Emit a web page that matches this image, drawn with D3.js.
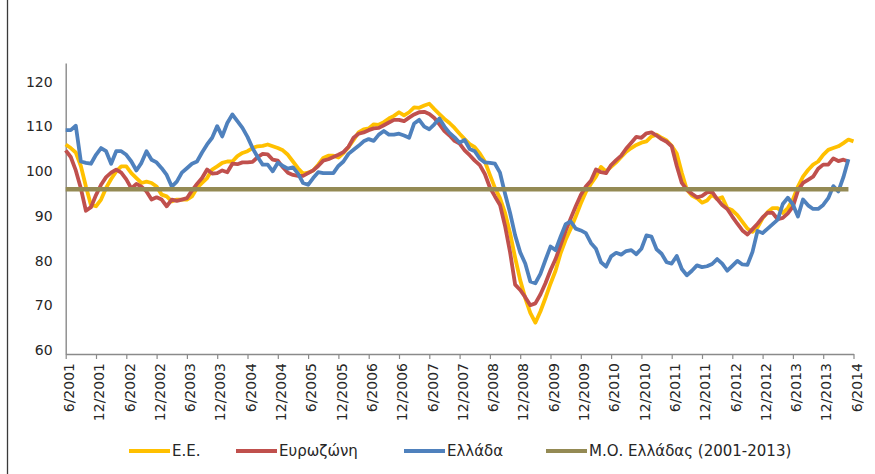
<!DOCTYPE html>
<html>
<head>
<meta charset="utf-8">
<script src="https://cdn.jsdelivr.net/npm/d3@7"></script>
<style>
  body { margin: 0; background: #fff; }
  svg { display: block; font-family: "DejaVu Sans", sans-serif; }
</style>
</head>
<body>
<div id="chart"></div>
<script>
// monthly values, 6/2001 .. 6/2014
const euValues = [
  106.8,106,105,102,97.4,93.3,93,94.5,97.1,99.1,100.8,101.9,101.9,100.4,99.3,98.2,98.5,98.2,97.4,95.6,
  95.2,94.1,94.5,94.5,94.5,95.2,97.1,98.2,99.3,101.2,101.9,102.7,103,103,104.2,104.9,105.3,106,106.4,106.5,
  106.8,106.4,106,105.5,104.5,103,101.5,100.3,100.5,101,102.3,103.8,104.3,104.3,103.9,104.9,106.2,107.8,109.5,110.2,
  110.4,111.3,111.2,111.8,112.6,113.2,114,113.3,114,115.1,115,115.5,115.9,114.7,113.6,112.5,111.6,110.5,109.2,108,
  106.9,106.2,104.8,103,100,97.1,94.8,91.5,87,81.5,76.5,72.5,69.2,67,69.5,72.5,75.7,78.6,82.5,85.5,
  88,90.7,93.6,96.2,98,99.6,101.8,100.8,101.8,102.8,104,105.2,106,106.7,107.2,107.5,108.6,109,108.3,107.7,
  106.5,104.8,100.5,96.7,95.4,94.8,93.8,94.3,95.6,94.6,95,92.6,92.1,91,89.5,88,87.3,88.3,90.3,91.7,
  92.6,92.6,91.5,92.6,94.5,97.4,99.6,101.1,102.3,103,104.5,105.6,106,106.4,107.1,107.9,107.5
];
const ezValues = [
  105.5,104,101,97,92,92.8,95.5,97.8,99.5,100.5,101.2,100.5,99,97,98,97.4,96.3,94.5,95,94.5,
  93,94.5,94.2,94.5,94.8,96.5,98,99.3,101.2,100.3,100.4,101,100.6,102.5,102.4,102.8,102.8,102.9,104,104.7,
  104.6,103.4,103.2,101.7,100.5,100,99.8,99.8,100.4,101,102,103.2,103.5,104,104.5,105.1,106.3,108.3,109.2,109.5,
  110,110.4,110.5,111.1,111.7,112.3,112.3,112,112.8,113.5,114,114.1,113.6,112.7,111.3,109.8,108.8,107.6,107,105.5,
  104.4,103.2,102.2,100.2,97.2,95.2,93.3,88.6,82.7,75.5,74.3,72.7,70.9,71.3,73.3,75.8,78.7,81.2,84.3,87.5,
  90.3,93,95.5,97.4,98.7,101.2,100.6,100.4,102.2,103.3,104.3,105.9,107.2,108.5,108.3,109.3,109.5,108.8,108,107.4,
  106.4,102,98.2,96.7,95.8,95,95.3,96.1,96.2,94.6,93.3,92.4,90.7,89.1,87.6,86.7,87.9,89.1,90.5,91.6,
  91.5,90.1,90.4,91.4,92.9,96.5,98.2,98.9,99.6,101.4,102.3,102.3,103.7,103.1,103.4,103
];
const grValues = [
  110,110,111,103,102.7,102.5,104.5,106,105.3,102.5,105.3,105.3,104.5,103,101,102.7,105.3,103.4,102.8,101.5,
  100,97.4,98.5,100.5,101.5,102.5,103,105,106.8,108.3,110.9,108.6,111.6,113.5,112,110.5,108.5,106,104,102.3,
  102.3,100.8,102.7,102,101.4,101.7,100.3,98.2,97.8,99.3,100.6,100.4,100.4,100.4,102,103,104.7,105.6,106.5,107.5,
  108,107.6,109,109.8,109,109,109.2,108.8,108.3,111.5,112.3,110.8,110.2,111.3,112.6,110.8,109.4,108.4,107.2,107.8,
  105.8,105.3,103.6,102.8,102.7,102.5,100.5,95.8,91.5,86.5,82.7,80.2,76.2,75.8,77.9,81,84,83.2,86.2,89,
  89.6,88,87.6,87,84.8,83.5,80.5,79.5,81.8,82.6,82.2,83,83.2,82.3,83.5,86.5,86.2,83.4,82.4,80.5,
  80.2,81.9,79,77.6,78.6,79.8,79.4,79.6,80.1,81.2,80.2,78.6,79.7,80.8,80,79.9,82.8,87.5,87,88,
  89,90,93.5,94.9,93.4,90.7,94.5,93.2,92.4,92.4,93.3,94.8,97.5,96.3,99.5,103.5
];
const grAverage = 96.8;

const seriesNames = ["Ε.Ε.", "Ευρωζώνη", "Ελλάδα", "Μ.Ο. Ελλάδας (2001-2013)"];
const seriesColors = ["#FFC000", "#C0504D", "#4F81BD", "#948A54"];

const xTickLabels = ["6/2001","12/2001","6/2002","12/2002","6/2003","12/2003","6/2004","12/2004",
  "6/2005","12/2005","6/2006","12/2006","6/2007","12/2007","6/2008","12/2008","6/2009","12/2009",
  "6/2010","12/2010","6/2011","12/2011","6/2012","12/2012","6/2013","12/2013","6/2014"];
const yTicks = [60, 70, 80, 90, 100, 110, 120];

const width = 875, height = 474;
let margin = {top: 63, left: 65.7, right: 21.5, bottom: 120};

let svg = d3.select("#chart").append("svg")
  .attr("width", width)
  .attr("height", height);

// outer frame edge on the left
svg.append("line")
  .attr("x1", 7.5).attr("x2", 7.5)
  .attr("y1", 0).attr("y2", height)
  .attr("stroke", "#3a3a3a")
  .attr("stroke-width", 1.3);

let x = d3.scaleLinear()
  .domain([0, 156])
  .range([margin.left, width - margin.right]);

let y = d3.scaleLinear()
  .domain([60, 125])
  .range([height - margin.bottom, margin.top]);

// x axis, tick every 6 months
let xAxis = d3.axisBottom(x)
  .tickValues(d3.range(0, 157, 6))
  .tickFormat((d, i) => xTickLabels[i])
  .tickSizeInner(5)
  .tickSizeOuter(0);

let gx = svg.append("g")
  .attr("transform", `translate(0,${y(60)})`)
  .call(xAxis);
gx.select(".domain").attr("stroke", "#8a8a8a").attr("stroke-width", 1.4);
gx.selectAll(".tick line").attr("stroke", "#8a8a8a").attr("stroke-width", 1.2);
gx.selectAll(".tick text")
  .attr("transform", "rotate(-90)")
  .attr("text-anchor", "end")
  .attr("x", -9)
  .attr("y", 0)
  .attr("dy", "0.55em")
  .attr("fill", "#262626")
  .style("font-size", "14px")
  .style("font-family", "DejaVu Sans");

// y axis, labels only
let yAxis = d3.axisLeft(y)
  .tickValues(yTicks)
  .tickSize(0)
  .tickPadding(13);

let gy = svg.append("g")
  .attr("transform", `translate(${margin.left},0)`)
  .call(yAxis);
gy.select(".domain").attr("stroke", "#8a8a8a").attr("stroke-width", 1.4);
gy.selectAll(".tick text")
  .attr("dy", "0.05em")
  .attr("fill", "#262626")
  .style("font-size", "14px")
  .style("font-family", "DejaVu Sans");

let line = d3.line()
  .x((d, i) => x(i))
  .y(d => y(d));

let avgValues = ezValues.map(() => grAverage);
let allSeries = [euValues, ezValues, grValues, avgValues];

svg.selectAll(".series")
  .data(allSeries)
  .enter().append("path")
  .attr("class", "series")
  .attr("d", d => line(d))
  .attr("fill", "none")
  .attr("stroke", (d, i) => seriesColors[i])
  .attr("stroke-width", (d, i) => i === 3 ? 4.6 : 3.8)
  .attr("stroke-linejoin", "round");

// legend
let legendX = [129, 236, 404, 546];
let legend = svg.selectAll(".key")
  .data(seriesNames)
  .enter().append("g")
  .attr("class", "key")
  .attr("transform", (d, i) => `translate(${legendX[i]},451)`);

legend.append("line")
  .attr("x1", 0).attr("x2", 41)
  .attr("stroke", (d, i) => seriesColors[i])
  .attr("stroke-width", 4);

legend.append("text")
  .attr("x", 43)
  .attr("dy", "0.35em")
  .attr("fill", "#262626")
  .style("font-size", "15px")
  .text(d => d);
</script>
</body>
</html>
